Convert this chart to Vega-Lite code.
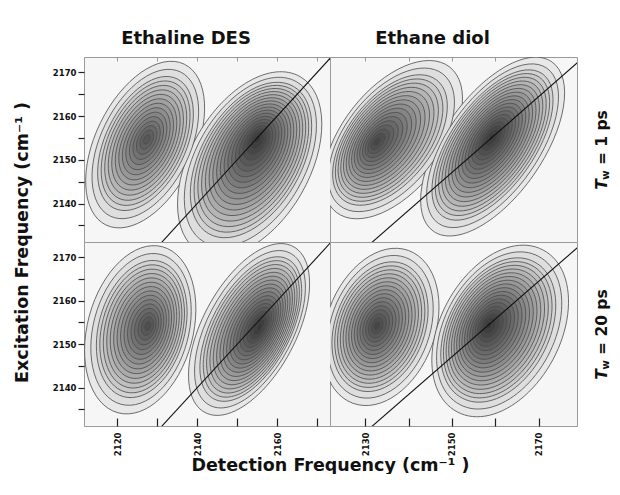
{
  "$schema": "https://vega.github.io/schema/vega-lite/v6.json",
  "background": "white",
  "padding": {"left": 12, "top": 29, "right": 0, "bottom": 0},
  "config": {
    "view": {"stroke": "#9a9a9a", "strokeWidth": 1, "fill": "#f6f6f6"},
    "font": "DejaVu Sans",
    "axis": {
      "grid": false, "domain": false, "labelOverlap": false,
      "labelFont": "DejaVu Sans", "labelFontWeight": "bold", "labelFontSize": 8.5, "labelColor": "#111",
      "tickColor": "#222", "tickWidth": 1.2,
      "titleFont": "DejaVu Sans", "titleFontWeight": "bold", "titleFontSize": 17.5, "titleColor": "#111"
    },
    "title": {"frame": "group", "font": "DejaVu Sans", "fontSize": 18, "fontWeight": "bold", "color": "#111", "baseline": "alphabetic", "offset": 9, "dx": -21}
  },
  "datasets": {
    "peaks": [
      {"k": "DES1L", "s": "Ethaline DES", "t": "1 ps", "x": 2127.45, "y": 2154.75},
      {"k": "DES1R", "s": "Ethaline DES", "t": "1 ps", "x": 2155.2, "y": 2154.98},
      {"k": "EG1L", "s": "Ethane diol", "t": "1 ps", "x": 2132.43, "y": 2158.11},
      {"k": "EG1R", "s": "Ethane diol", "t": "1 ps", "x": 2159.18, "y": 2159.43},
      {"k": "DES20L", "s": "Ethaline DES", "t": "20 ps", "x": 2127.78, "y": 2154.25},
      {"k": "DES20R", "s": "Ethaline DES", "t": "20 ps", "x": 2155.7, "y": 2154.02},
      {"k": "EG20L", "s": "Ethane diol", "t": "20 ps", "x": 2132.6, "y": 2158.26},
      {"k": "EG20R", "s": "Ethane diol", "t": "20 ps", "x": 2158.39, "y": 2158.44}
    ],
    "contours": [
      {"k": "DES1L", "lev": 1, "r": 17.4}, {"k": "DES1L", "lev": 2, "r": 15.6}, {"k": "DES1L", "lev": 3, "r": 14},
      {"k": "DES1L", "lev": 4, "r": 13}, {"k": "DES1L", "lev": 5, "r": 12}, {"k": "DES1L", "lev": 6, "r": 11},
      {"k": "DES1L", "lev": 7, "r": 10}, {"k": "DES1L", "lev": 8, "r": 9}, {"k": "DES1L", "lev": 9, "r": 8},
      {"k": "DES1L", "lev": 10, "r": 7}, {"k": "DES1L", "lev": 11, "r": 6}, {"k": "DES1L", "lev": 12, "r": 5},
      {"k": "DES1L", "lev": 13, "r": 4}, {"k": "DES1L", "lev": 14, "r": 3}, {"k": "DES1L", "lev": 15, "r": 2},
      {"k": "DES1L", "lev": 16, "r": 1},

      {"k": "DES1R", "lev": 1, "r": 21.4}, {"k": "DES1R", "lev": 2, "r": 19.6}, {"k": "DES1R", "lev": 3, "r": 18},
      {"k": "DES1R", "lev": 4, "r": 17}, {"k": "DES1R", "lev": 5, "r": 16}, {"k": "DES1R", "lev": 6, "r": 15},
      {"k": "DES1R", "lev": 7, "r": 14}, {"k": "DES1R", "lev": 8, "r": 13}, {"k": "DES1R", "lev": 9, "r": 12},
      {"k": "DES1R", "lev": 10, "r": 11}, {"k": "DES1R", "lev": 11, "r": 10}, {"k": "DES1R", "lev": 12, "r": 9},
      {"k": "DES1R", "lev": 13, "r": 8}, {"k": "DES1R", "lev": 14, "r": 7}, {"k": "DES1R", "lev": 15, "r": 6},
      {"k": "DES1R", "lev": 16, "r": 5}, {"k": "DES1R", "lev": 17, "r": 4}, {"k": "DES1R", "lev": 18, "r": 3},
      {"k": "DES1R", "lev": 19, "r": 2}, {"k": "DES1R", "lev": 20, "r": 1},

      {"k": "EG1L", "lev": 1, "r": 19.4}, {"k": "EG1L", "lev": 2, "r": 17.6}, {"k": "EG1L", "lev": 3, "r": 16},
      {"k": "EG1L", "lev": 4, "r": 15}, {"k": "EG1L", "lev": 5, "r": 14}, {"k": "EG1L", "lev": 6, "r": 13},
      {"k": "EG1L", "lev": 7, "r": 12}, {"k": "EG1L", "lev": 8, "r": 11}, {"k": "EG1L", "lev": 9, "r": 10},
      {"k": "EG1L", "lev": 10, "r": 9}, {"k": "EG1L", "lev": 11, "r": 8}, {"k": "EG1L", "lev": 12, "r": 7},
      {"k": "EG1L", "lev": 13, "r": 6}, {"k": "EG1L", "lev": 14, "r": 5}, {"k": "EG1L", "lev": 15, "r": 4},
      {"k": "EG1L", "lev": 16, "r": 3}, {"k": "EG1L", "lev": 17, "r": 2}, {"k": "EG1L", "lev": 18, "r": 1},

      {"k": "EG1R", "lev": 1, "r": 21.4}, {"k": "EG1R", "lev": 2, "r": 19.6}, {"k": "EG1R", "lev": 3, "r": 18},
      {"k": "EG1R", "lev": 4, "r": 17}, {"k": "EG1R", "lev": 5, "r": 16}, {"k": "EG1R", "lev": 6, "r": 15},
      {"k": "EG1R", "lev": 7, "r": 14}, {"k": "EG1R", "lev": 8, "r": 13}, {"k": "EG1R", "lev": 9, "r": 12},
      {"k": "EG1R", "lev": 10, "r": 11}, {"k": "EG1R", "lev": 11, "r": 10}, {"k": "EG1R", "lev": 12, "r": 9},
      {"k": "EG1R", "lev": 13, "r": 8}, {"k": "EG1R", "lev": 14, "r": 7}, {"k": "EG1R", "lev": 15, "r": 6},
      {"k": "EG1R", "lev": 16, "r": 5}, {"k": "EG1R", "lev": 17, "r": 4}, {"k": "EG1R", "lev": 18, "r": 3},
      {"k": "EG1R", "lev": 19, "r": 2}, {"k": "EG1R", "lev": 20, "r": 1},

      {"k": "DES20L", "lev": 1, "r": 18.4}, {"k": "DES20L", "lev": 2, "r": 16.6}, {"k": "DES20L", "lev": 3, "r": 15},
      {"k": "DES20L", "lev": 4, "r": 14}, {"k": "DES20L", "lev": 5, "r": 13}, {"k": "DES20L", "lev": 6, "r": 12},
      {"k": "DES20L", "lev": 7, "r": 11}, {"k": "DES20L", "lev": 8, "r": 10}, {"k": "DES20L", "lev": 9, "r": 9},
      {"k": "DES20L", "lev": 10, "r": 8}, {"k": "DES20L", "lev": 11, "r": 7}, {"k": "DES20L", "lev": 12, "r": 6},
      {"k": "DES20L", "lev": 13, "r": 5}, {"k": "DES20L", "lev": 14, "r": 4}, {"k": "DES20L", "lev": 15, "r": 3},
      {"k": "DES20L", "lev": 16, "r": 2}, {"k": "DES20L", "lev": 17, "r": 1},

      {"k": "DES20R", "lev": 1, "r": 21.4}, {"k": "DES20R", "lev": 2, "r": 19.6}, {"k": "DES20R", "lev": 3, "r": 18},
      {"k": "DES20R", "lev": 4, "r": 17}, {"k": "DES20R", "lev": 5, "r": 16}, {"k": "DES20R", "lev": 6, "r": 15},
      {"k": "DES20R", "lev": 7, "r": 14}, {"k": "DES20R", "lev": 8, "r": 13}, {"k": "DES20R", "lev": 9, "r": 12},
      {"k": "DES20R", "lev": 10, "r": 11}, {"k": "DES20R", "lev": 11, "r": 10}, {"k": "DES20R", "lev": 12, "r": 9},
      {"k": "DES20R", "lev": 13, "r": 8}, {"k": "DES20R", "lev": 14, "r": 7}, {"k": "DES20R", "lev": 15, "r": 6},
      {"k": "DES20R", "lev": 16, "r": 5}, {"k": "DES20R", "lev": 17, "r": 4}, {"k": "DES20R", "lev": 18, "r": 3},
      {"k": "DES20R", "lev": 19, "r": 2}, {"k": "DES20R", "lev": 20, "r": 1},

      {"k": "EG20L", "lev": 1, "r": 19.4}, {"k": "EG20L", "lev": 2, "r": 17.6}, {"k": "EG20L", "lev": 3, "r": 16},
      {"k": "EG20L", "lev": 4, "r": 15}, {"k": "EG20L", "lev": 5, "r": 14}, {"k": "EG20L", "lev": 6, "r": 13},
      {"k": "EG20L", "lev": 7, "r": 12}, {"k": "EG20L", "lev": 8, "r": 11}, {"k": "EG20L", "lev": 9, "r": 10},
      {"k": "EG20L", "lev": 10, "r": 9}, {"k": "EG20L", "lev": 11, "r": 8}, {"k": "EG20L", "lev": 12, "r": 7},
      {"k": "EG20L", "lev": 13, "r": 6}, {"k": "EG20L", "lev": 14, "r": 5}, {"k": "EG20L", "lev": 15, "r": 4},
      {"k": "EG20L", "lev": 16, "r": 3}, {"k": "EG20L", "lev": 17, "r": 2}, {"k": "EG20L", "lev": 18, "r": 1},

      {"k": "EG20R", "lev": 1, "r": 21.4}, {"k": "EG20R", "lev": 2, "r": 19.6}, {"k": "EG20R", "lev": 3, "r": 18},
      {"k": "EG20R", "lev": 4, "r": 17}, {"k": "EG20R", "lev": 5, "r": 16}, {"k": "EG20R", "lev": 6, "r": 15},
      {"k": "EG20R", "lev": 7, "r": 14}, {"k": "EG20R", "lev": 8, "r": 13}, {"k": "EG20R", "lev": 9, "r": 12},
      {"k": "EG20R", "lev": 10, "r": 11}, {"k": "EG20R", "lev": 11, "r": 10}, {"k": "EG20R", "lev": 12, "r": 9},
      {"k": "EG20R", "lev": 13, "r": 8}, {"k": "EG20R", "lev": 14, "r": 7}, {"k": "EG20R", "lev": 15, "r": 6},
      {"k": "EG20R", "lev": 16, "r": 5}, {"k": "EG20R", "lev": 17, "r": 4}, {"k": "EG20R", "lev": 18, "r": 3},
      {"k": "EG20R", "lev": 19, "r": 2}, {"k": "EG20R", "lev": 20, "r": 1}
    ],
    "diag": [{"f": 2100}, {"f": 2200}]
  },
  "columns": 2,
  "spacing": 0,
  "bounds": "flush",
  "concat": [
    {
      "width": 246, "height": 185,
      "title": {"text": "Ethaline DES"},
      "resolve": {"axis": {"y": "independent"}},
      "layer": [
        {
          "data": {"name": "contours"},
          "transform": [
            {"lookup": "k", "from": {"data": {"name": "peaks"}, "key": "k", "fields": ["s", "t", "x", "y"]}},
            {"filter": "datum.s === 'Ethaline DES' && datum.t === '1 ps'"}
          ],
          "mark": {"type": "point", "filled": true, "opacity": 1, "fillOpacity": 1, "stroke": "#4a4a4a", "strokeWidth": 0.8, "clip": true},
          "encoding": {
            "x": {"field": "x", "type": "quantitative", "scale": {"domain": [2111.7, 2173.2], "nice": false, "zero": false},
              "axis": {"orient": "top", "values": [2120, 2130, 2140, 2150, 2160, 2170], "labels": false, "tickSize": -4, "tickColor": "#999", "tickWidth": 1, "title": null}},
            "y": {"field": "y", "type": "quantitative", "scale": {"domain": [2131.2, 2173.5], "nice": false, "zero": false},
              "axis": {"orient": "left", "values": [2140, 2150, 2160, 2170], "format": "d", "labelOverlap": false,
                "tickSize": 6, "labelPadding": 2,
                "title": "Excitation Frequency (cm\u207b\u00b9 )", "titleX": -62, "titleY": 185,
                "titleAngle": 270, "titleAlign": "center", "titleBaseline": "middle"}},
            "shape": {"field": "k", "type": "nominal", "legend": null,
              "scale": {"domain": ["DES1L", "DES1R", "EG1L", "EG1R", "DES20L", "DES20R", "EG20L", "EG20R"],
                "range": [
                  "M2.146,-4.299A5.14,2.86,-64,1,0,-2.36,4.941A5.14,2.86,-64,1,0,2.146,-4.299Z",
                  "M1.971,-2.866A4.72,2.78,-60,1,0,-2.749,5.31A4.72,2.78,-60,1,0,1.971,-2.866Z",
                  "M3.8,-3.849A4.75,2.63,-52,1,0,-2.05,3.637A4.75,2.63,-52,1,0,3.8,-3.849Z",
                  "M2.814,-3.496A4.83,2.33,-55,1,0,-2.726,4.418A4.83,2.33,-55,1,0,2.814,-3.496Z",
                  "M0.769,-4.291A4.67,2.87,-75,1,0,-1.649,4.731A4.67,2.87,-75,1,0,0.769,-4.291Z",
                  "M1.55,-3.748A4.39,2.17,-62,1,0,-2.572,4.004A4.39,2.17,-62,1,0,1.55,-3.748Z",
                  "M1.639,-3.875A4.19,2.81,-70,1,0,-1.227,4A4.19,2.81,-70,1,0,1.639,-3.875Z",
                  "M2.565,-3.501A4.28,2.78,-62,1,0,-1.453,4.057A4.28,2.78,-62,1,0,2.565,-3.501Z"
                ]}},
            "size": {"field": "r", "type": "quantitative", "legend": null, "scale": {"type": "pow", "exponent": 2, "domain": [0, 25], "range": [0, 2500]}},
            "color": {"field": "lev", "type": "quantitative", "legend": null, "scale": {"domain": [1, 21], "range": ["#e8e8e8", "#2e2e2e"]}},
            "order": {"field": "lev", "sort": "ascending"}
          }
        },
        {
          "data": {"name": "diag"},
          "mark": {"type": "line", "clip": true, "color": "#111", "strokeWidth": 1.1},
          "encoding": {
            "x": {"field": "f", "type": "quantitative", "scale": {"domain": [2111.7, 2173.2], "nice": false, "zero": false}},
            "y": {"field": "f", "type": "quantitative", "scale": {"domain": [2131.2, 2173.5], "nice": false, "zero": false},
              "axis": {"orient": "left", "values": [2135, 2145, 2155, 2165], "labels": false, "tickSize": 6, "title": null}}
          }
        }
      ]
    },
    {
      "width": 247, "height": 185,
      "title": {"text": "Ethane diol"},
      "layer": [
        {
          "data": {"name": "contours"},
          "transform": [
            {"lookup": "k", "from": {"data": {"name": "peaks"}, "key": "k", "fields": ["s", "t", "x", "y"]}},
            {"filter": "datum.s === 'Ethane diol' && datum.t === '1 ps'"}
          ],
          "mark": {"type": "point", "filled": true, "opacity": 1, "fillOpacity": 1, "stroke": "#4a4a4a", "strokeWidth": 0.8, "clip": true},
          "encoding": {
            "x": {"field": "x", "type": "quantitative", "scale": {"domain": [2121.8, 2178.9], "nice": false, "zero": false},
              "axis": {"orient": "top", "values": [2130, 2140, 2150, 2160, 2170], "labels": false, "tickSize": -4, "tickColor": "#999", "tickWidth": 1, "title": null}},
            "y": {"field": "y", "type": "quantitative", "scale": {"domain": [2131.6, 2180.5], "nice": false, "zero": false}, "axis": null},
            "shape": {"field": "k", "type": "nominal", "legend": null,
              "scale": {"domain": ["DES1L", "DES1R", "EG1L", "EG1R", "DES20L", "DES20R", "EG20L", "EG20R"],
                "range": [
                  "M2.146,-4.299A5.14,2.86,-64,1,0,-2.36,4.941A5.14,2.86,-64,1,0,2.146,-4.299Z",
                  "M1.971,-2.866A4.72,2.78,-60,1,0,-2.749,5.31A4.72,2.78,-60,1,0,1.971,-2.866Z",
                  "M3.8,-3.849A4.75,2.63,-52,1,0,-2.05,3.637A4.75,2.63,-52,1,0,3.8,-3.849Z",
                  "M2.814,-3.496A4.83,2.33,-55,1,0,-2.726,4.418A4.83,2.33,-55,1,0,2.814,-3.496Z",
                  "M0.769,-4.291A4.67,2.87,-75,1,0,-1.649,4.731A4.67,2.87,-75,1,0,0.769,-4.291Z",
                  "M1.55,-3.748A4.39,2.17,-62,1,0,-2.572,4.004A4.39,2.17,-62,1,0,1.55,-3.748Z",
                  "M1.639,-3.875A4.19,2.81,-70,1,0,-1.227,4A4.19,2.81,-70,1,0,1.639,-3.875Z",
                  "M2.565,-3.501A4.28,2.78,-62,1,0,-1.453,4.057A4.28,2.78,-62,1,0,2.565,-3.501Z"
                ]}},
            "size": {"field": "r", "type": "quantitative", "legend": null, "scale": {"type": "pow", "exponent": 2, "domain": [0, 25], "range": [0, 2500]}},
            "color": {"field": "lev", "type": "quantitative", "legend": null, "scale": {"domain": [1, 21], "range": ["#e8e8e8", "#2e2e2e"]}},
            "order": {"field": "lev", "sort": "ascending"}
          }
        },
        {
          "data": {"name": "diag"},
          "mark": {"type": "line", "clip": true, "color": "#111", "strokeWidth": 1.1},
          "encoding": {
            "x": {"field": "f", "type": "quantitative", "scale": {"domain": [2121.8, 2178.9], "nice": false, "zero": false}},
            "y": {"field": "f", "type": "quantitative", "scale": {"domain": [2131.6, 2180.5], "nice": false, "zero": false}}
          }
        },
        {
          "data": {"values": [{}]},
          "mark": {"type": "text", "text": "T", "angle": 270, "align": "left", "baseline": "middle", "dx": -40, "font": "DejaVu Sans", "fontSize": 15.5, "fontWeight": "bold", "fontStyle": "italic", "color": "#111"},
          "encoding": {
            "x": {"datum": 2184.68, "type": "quantitative", "scale": {"domain": [2121.8, 2178.9], "nice": false, "zero": false}},
            "y": {"datum": 2156, "type": "quantitative", "scale": {"domain": [2131.6, 2180.5], "nice": false, "zero": false}}
          }
        },
        {
          "data": {"values": [{}]},
          "mark": {"type": "text", "text": "w", "angle": 270, "align": "left", "baseline": "middle", "dx": -30, "dy": 4, "font": "DejaVu Sans", "fontSize": 10, "fontWeight": "bold", "color": "#111"},
          "encoding": {
            "x": {"datum": 2184.68, "type": "quantitative", "scale": {"domain": [2121.8, 2178.9], "nice": false, "zero": false}},
            "y": {"datum": 2156, "type": "quantitative", "scale": {"domain": [2131.6, 2180.5], "nice": false, "zero": false}}
          }
        },
        {
          "data": {"values": [{}]},
          "mark": {"type": "text", "text": "= 1 ps", "angle": 270, "align": "left", "baseline": "middle", "dx": -15.4, "font": "DejaVu Sans", "fontSize": 15.5, "fontWeight": "bold", "color": "#111"},
          "encoding": {
            "x": {"datum": 2184.68, "type": "quantitative", "scale": {"domain": [2121.8, 2178.9], "nice": false, "zero": false}},
            "y": {"datum": 2156, "type": "quantitative", "scale": {"domain": [2131.6, 2180.5], "nice": false, "zero": false}}
          }
        }
      ]
    },
    {
      "width": 246, "height": 184,
      "resolve": {"axis": {"y": "independent"}},
      "layer": [
        {
          "data": {"name": "contours"},
          "transform": [
            {"lookup": "k", "from": {"data": {"name": "peaks"}, "key": "k", "fields": ["s", "t", "x", "y"]}},
            {"filter": "datum.s === 'Ethaline DES' && datum.t === '20 ps'"}
          ],
          "mark": {"type": "point", "filled": true, "opacity": 1, "fillOpacity": 1, "stroke": "#4a4a4a", "strokeWidth": 0.8, "clip": true},
          "encoding": {
            "x": {"field": "x", "type": "quantitative", "scale": {"domain": [2111.7, 2173.2], "nice": false, "zero": false},
              "axis": {"values": [2120, 2130, 2140, 2150, 2160, 2170], "format": "d", "labelOverlap": false,
                "labelExpr": "datum.value % 20 === 0 ? datum.label : ''",
                "tickSize": -8, "labelPadding": 14, "labelAngle": 270, "labelAlign": "right", "labelBaseline": "middle",
                "title": "Detection Frequency (cm\u207b\u00b9 )", "titleX": 246, "titleY": 39,
                "titleAlign": "center", "titleBaseline": "middle"}},
            "y": {"field": "y", "type": "quantitative", "scale": {"domain": [2131.2, 2173.5], "nice": false, "zero": false},
              "axis": {"orient": "left", "values": [2140, 2150, 2160, 2170], "format": "d", "labelOverlap": false,
                "tickSize": 6, "labelPadding": 2, "title": null}},
            "shape": {"field": "k", "type": "nominal", "legend": null,
              "scale": {"domain": ["DES1L", "DES1R", "EG1L", "EG1R", "DES20L", "DES20R", "EG20L", "EG20R"],
                "range": [
                  "M2.146,-4.299A5.14,2.86,-64,1,0,-2.36,4.941A5.14,2.86,-64,1,0,2.146,-4.299Z",
                  "M1.971,-2.866A4.72,2.78,-60,1,0,-2.749,5.31A4.72,2.78,-60,1,0,1.971,-2.866Z",
                  "M3.8,-3.849A4.75,2.63,-52,1,0,-2.05,3.637A4.75,2.63,-52,1,0,3.8,-3.849Z",
                  "M2.814,-3.496A4.83,2.33,-55,1,0,-2.726,4.418A4.83,2.33,-55,1,0,2.814,-3.496Z",
                  "M0.769,-4.291A4.67,2.87,-75,1,0,-1.649,4.731A4.67,2.87,-75,1,0,0.769,-4.291Z",
                  "M1.55,-3.748A4.39,2.17,-62,1,0,-2.572,4.004A4.39,2.17,-62,1,0,1.55,-3.748Z",
                  "M1.639,-3.875A4.19,2.81,-70,1,0,-1.227,4A4.19,2.81,-70,1,0,1.639,-3.875Z",
                  "M2.565,-3.501A4.28,2.78,-62,1,0,-1.453,4.057A4.28,2.78,-62,1,0,2.565,-3.501Z"
                ]}},
            "size": {"field": "r", "type": "quantitative", "legend": null, "scale": {"type": "pow", "exponent": 2, "domain": [0, 25], "range": [0, 2500]}},
            "color": {"field": "lev", "type": "quantitative", "legend": null, "scale": {"domain": [1, 21], "range": ["#e8e8e8", "#2e2e2e"]}},
            "order": {"field": "lev", "sort": "ascending"}
          }
        },
        {
          "data": {"name": "diag"},
          "mark": {"type": "line", "clip": true, "color": "#111", "strokeWidth": 1.1},
          "encoding": {
            "x": {"field": "f", "type": "quantitative", "scale": {"domain": [2111.7, 2173.2], "nice": false, "zero": false}},
            "y": {"field": "f", "type": "quantitative", "scale": {"domain": [2131.2, 2173.5], "nice": false, "zero": false},
              "axis": {"orient": "left", "values": [2135, 2145, 2155, 2165], "labels": false, "tickSize": 6, "title": null}}
          }
        }
      ]
    },
    {
      "width": 247, "height": 184,
      "layer": [
        {
          "data": {"name": "contours"},
          "transform": [
            {"lookup": "k", "from": {"data": {"name": "peaks"}, "key": "k", "fields": ["s", "t", "x", "y"]}},
            {"filter": "datum.s === 'Ethane diol' && datum.t === '20 ps'"}
          ],
          "mark": {"type": "point", "filled": true, "opacity": 1, "fillOpacity": 1, "stroke": "#4a4a4a", "strokeWidth": 0.8, "clip": true},
          "encoding": {
            "x": {"field": "x", "type": "quantitative", "scale": {"domain": [2121.8, 2178.9], "nice": false, "zero": false},
              "axis": {"values": [2130, 2140, 2150, 2160, 2170], "format": "d", "labelOverlap": false,
                "labelExpr": "(datum.value - 2130) % 20 === 0 ? datum.label : ''",
                "tickSize": -8, "labelPadding": 14, "labelAngle": 270, "labelAlign": "right", "labelBaseline": "middle",
                "title": null}},
            "y": {"field": "y", "type": "quantitative", "scale": {"domain": [2131.6, 2180.5], "nice": false, "zero": false}, "axis": null},
            "shape": {"field": "k", "type": "nominal", "legend": null,
              "scale": {"domain": ["DES1L", "DES1R", "EG1L", "EG1R", "DES20L", "DES20R", "EG20L", "EG20R"],
                "range": [
                  "M2.146,-4.299A5.14,2.86,-64,1,0,-2.36,4.941A5.14,2.86,-64,1,0,2.146,-4.299Z",
                  "M1.971,-2.866A4.72,2.78,-60,1,0,-2.749,5.31A4.72,2.78,-60,1,0,1.971,-2.866Z",
                  "M3.8,-3.849A4.75,2.63,-52,1,0,-2.05,3.637A4.75,2.63,-52,1,0,3.8,-3.849Z",
                  "M2.814,-3.496A4.83,2.33,-55,1,0,-2.726,4.418A4.83,2.33,-55,1,0,2.814,-3.496Z",
                  "M0.769,-4.291A4.67,2.87,-75,1,0,-1.649,4.731A4.67,2.87,-75,1,0,0.769,-4.291Z",
                  "M1.55,-3.748A4.39,2.17,-62,1,0,-2.572,4.004A4.39,2.17,-62,1,0,1.55,-3.748Z",
                  "M1.639,-3.875A4.19,2.81,-70,1,0,-1.227,4A4.19,2.81,-70,1,0,1.639,-3.875Z",
                  "M2.565,-3.501A4.28,2.78,-62,1,0,-1.453,4.057A4.28,2.78,-62,1,0,2.565,-3.501Z"
                ]}},
            "size": {"field": "r", "type": "quantitative", "legend": null, "scale": {"type": "pow", "exponent": 2, "domain": [0, 25], "range": [0, 2500]}},
            "color": {"field": "lev", "type": "quantitative", "legend": null, "scale": {"domain": [1, 21], "range": ["#e8e8e8", "#2e2e2e"]}},
            "order": {"field": "lev", "sort": "ascending"}
          }
        },
        {
          "data": {"name": "diag"},
          "mark": {"type": "line", "clip": true, "color": "#111", "strokeWidth": 1.1},
          "encoding": {
            "x": {"field": "f", "type": "quantitative", "scale": {"domain": [2121.8, 2178.9], "nice": false, "zero": false}},
            "y": {"field": "f", "type": "quantitative", "scale": {"domain": [2131.6, 2180.5], "nice": false, "zero": false}}
          }
        },
        {
          "data": {"values": [{}]},
          "mark": {"type": "text", "text": "T", "angle": 270, "align": "left", "baseline": "middle", "dx": -45.5, "font": "DejaVu Sans", "fontSize": 15.5, "fontWeight": "bold", "fontStyle": "italic", "color": "#111"},
          "encoding": {
            "x": {"datum": 2184.68, "type": "quantitative", "scale": {"domain": [2121.8, 2178.9], "nice": false, "zero": false}},
            "y": {"datum": 2156, "type": "quantitative", "scale": {"domain": [2131.6, 2180.5], "nice": false, "zero": false}}
          }
        },
        {
          "data": {"values": [{}]},
          "mark": {"type": "text", "text": "w", "angle": 270, "align": "left", "baseline": "middle", "dx": -35.4, "dy": 4, "font": "DejaVu Sans", "fontSize": 10, "fontWeight": "bold", "color": "#111"},
          "encoding": {
            "x": {"datum": 2184.68, "type": "quantitative", "scale": {"domain": [2121.8, 2178.9], "nice": false, "zero": false}},
            "y": {"datum": 2156, "type": "quantitative", "scale": {"domain": [2131.6, 2180.5], "nice": false, "zero": false}}
          }
        },
        {
          "data": {"values": [{}]},
          "mark": {"type": "text", "text": "= 20 ps", "angle": 270, "align": "left", "baseline": "middle", "dx": -20.8, "font": "DejaVu Sans", "fontSize": 15.5, "fontWeight": "bold", "color": "#111"},
          "encoding": {
            "x": {"datum": 2184.68, "type": "quantitative", "scale": {"domain": [2121.8, 2178.9], "nice": false, "zero": false}},
            "y": {"datum": 2156, "type": "quantitative", "scale": {"domain": [2131.6, 2180.5], "nice": false, "zero": false}}
          }
        }
      ]
    }
  ]
}
